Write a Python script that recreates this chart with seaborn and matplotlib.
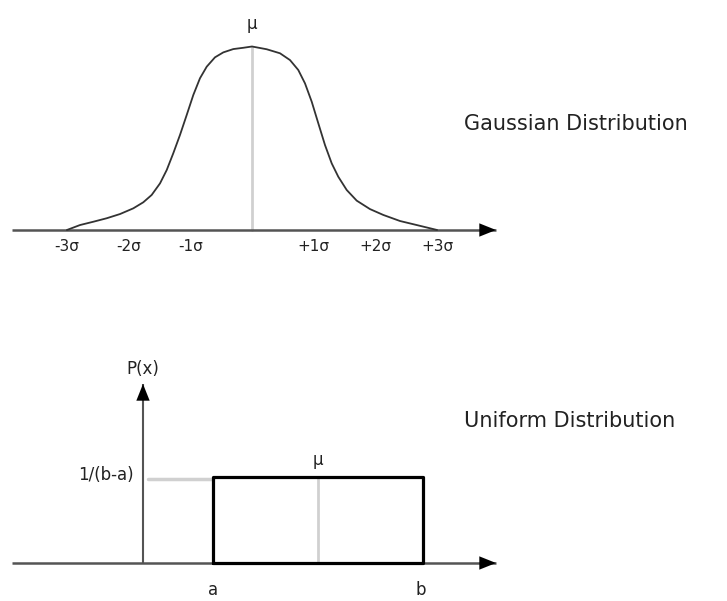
import numpy as np
import pandas as pd
import matplotlib
matplotlib.use("Agg")
import matplotlib.pyplot as plt
import seaborn as sns

sns.set_theme(style="white")
plt.rcParams["font.family"] = ["DejaVu Sans"]

# Bell curve, x in units of sigma, height relative to the peak
bell_x = [-3.0, -2.788, -2.572, -2.355, -2.139, -1.924, -1.762, -1.626, -1.491,
          -1.382, -1.276, -1.167, -1.058, -0.951, -0.843, -0.734, -0.600, -0.465,
          -0.303, -0.141, 0.0, 0.238, 0.454, 0.616, 0.750, 0.859, 0.968, 1.075,
          1.183, 1.292, 1.399, 1.535, 1.697, 1.912, 2.128, 2.399, 2.670, 3.0]
bell_y = [0.0, 0.027, 0.045, 0.064, 0.087, 0.118, 0.151, 0.191, 0.254,
          0.327, 0.418, 0.518, 0.627, 0.736, 0.827, 0.890, 0.941, 0.968,
          0.986, 0.993, 1.0, 0.985, 0.963, 0.926, 0.872, 0.799, 0.699, 0.581,
          0.463, 0.363, 0.290, 0.218, 0.160, 0.114, 0.082, 0.049, 0.027, 0.0]
sigma_ticks = [-3, -2, -1, 1, 2, 3]
sigma_labels = ["-3σ", "-2σ", "-1σ", "+1σ", "+2σ", "+3σ"]

# Uniform distribution on [a, b]
a_val, b_val = 2.0, 8.0
u_height = 1.0 / (b_val - a_val)
u_mean = (a_val + b_val) / 2.0

W, H = 727, 601
fig = plt.figure(figsize=(W / 100, H / 100), dpi=100)

AX_COL = "#555555"
TXT_COL = "#222222"


def draw_arrow(ax, x0, y0, x1, y1, lw=1.8):
    ax.plot([x0, x1], [y0, y1], color=AX_COL, lw=lw, solid_capstyle="butt", zorder=1)
    ax.annotate("", xy=(x1, y1), xytext=(x0, y0),
                arrowprops=dict(arrowstyle="-|>,head_length=0.75,head_width=0.3",
                                color="black", lw=0.01, shrinkA=0, shrinkB=0,
                                mutation_scale=16),
                zorder=3)


# ---------- Gaussian panel ----------
ax1 = fig.add_axes([0, (H - 290) / H, 1, 290 / H])
sx, s0 = 61.7, 252
hy, h0 = 183.5, 230
ax1.set_xlim((0 - s0) / sx, (W - s0) / sx)
ax1.set_ylim((h0 - 290) / hy, h0 / hy)
ax1.axis("off")

bell = pd.DataFrame({"x": bell_x, "y": bell_y})
sns.lineplot(data=bell, x="x", y="y", ax=ax1, color="#333333", lw=1.3,
             sort=False, estimator=None, zorder=2,
             solid_joinstyle="round", solid_capstyle="round")
peak = max(bell_y)
ax1.plot([0, 0], [0, peak], color="#d0d0d0", lw=2, zorder=1)
draw_arrow(ax1, (12 - s0) / sx, 0, (496 - s0) / sx, 0)
ax1.text(0, peak + 0.12, "μ", ha="center", va="center", fontsize=12, color=TXT_COL)
for t, lab in zip(sigma_ticks, sigma_labels):
    ax1.text(t, -0.09, lab, ha="center", va="center", fontsize=11, color=TXT_COL)

fig.text(464 / W, 1 - 124 / H, "Gaussian Distribution", ha="left", va="center",
         fontsize=15, color=TXT_COL)

# ---------- Uniform panel ----------
ax2 = fig.add_axes([0, 0, 1, 301 / H])
ux, u0 = 35.0, 143
uy, v0 = 516.0, 563
ax2.set_xlim((0 - u0) / ux, (W - u0) / ux)
ax2.set_ylim((v0 - H) / uy, (v0 - 300) / uy)
ax2.axis("off")

draw_arrow(ax2, (12 - u0) / ux, 0, (496 - u0) / ux, 0)
draw_arrow(ax2, 0, 0, 0, (v0 - 384) / uy, lw=1.5)

box = pd.DataFrame({"x": [a_val, a_val, b_val, b_val, a_val],
                    "y": [0, u_height, u_height, 0, 0]})
ax2.plot([0.15, a_val], [u_height - 0.003, u_height - 0.003], color="#d0d0d0",
         lw=2.5, zorder=1)
ax2.plot([u_mean, u_mean], [0, u_height], color="#d0d0d0", lw=2, zorder=1)
sns.lineplot(data=box, x="x", y="y", ax=ax2, color="black", lw=2.3,
             sort=False, estimator=None, zorder=4)

ax2.text(0, (v0 - 369) / uy, "P(x)", ha="center", va="center", fontsize=12, color=TXT_COL)
ax2.text(-0.25, u_height + 0.004, "1/(b-a)", ha="right", va="center", fontsize=12,
         color=TXT_COL)
ax2.text(u_mean, u_height + 0.033, "μ", ha="center", va="center", fontsize=12,
         color=TXT_COL)
ax2.text(a_val, (v0 - 599) / uy, "a", ha="center", va="bottom", fontsize=12, color=TXT_COL)
ax2.text(b_val - 0.06, (v0 - 599) / uy, "b", ha="center", va="bottom", fontsize=12,
         color=TXT_COL)

fig.text(464 / W, 1 - 421 / H, "Uniform Distribution", ha="left", va="center",
         fontsize=15, color=TXT_COL)

fig.savefig("out.png", dpi=100, facecolor="white")
